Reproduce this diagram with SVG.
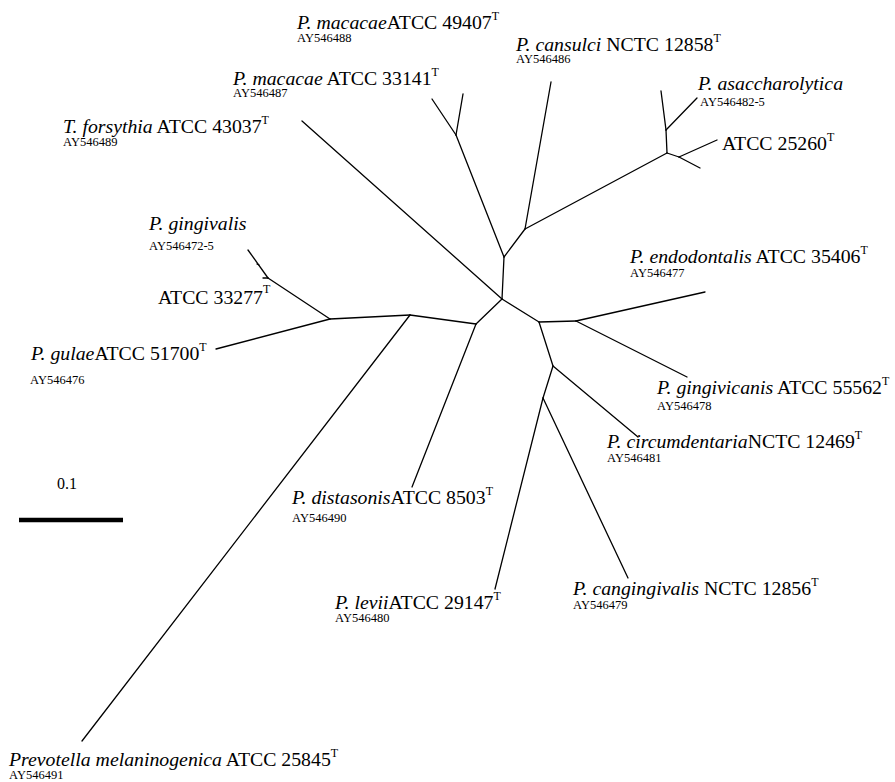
<svg xmlns="http://www.w3.org/2000/svg" width="895" height="782" viewBox="0 0 895 782">
  <style>
    .br { stroke: #000; stroke-width: 1.3; fill: none; stroke-linecap: round; }
    text { font-family: "Liberation Serif", "Times New Roman", Times, "DejaVu Serif", serif; fill: #000; }
    .lab { font-size: 19.8px; }
    .sp { font-style: italic; }
    .acc { font-size: 12.5px; }
    .sup { font-size: 12px; }
  </style>
  <rect width="895" height="782" fill="#fff"/>

  <!-- tree branches -->
  <g id="branches" class="br">
    <line x1="502" y1="299" x2="302" y2="121"/>
    <line x1="502" y1="299" x2="504" y2="257"/>
    <line x1="504" y1="257" x2="456" y2="135"/>
    <line x1="456" y1="135" x2="432" y2="99"/>
    <line x1="456" y1="135" x2="463" y2="94"/>
    <line x1="504" y1="257" x2="525" y2="229"/>
    <line x1="525" y1="229" x2="551" y2="82"/>
    <line x1="525" y1="229" x2="667" y2="153"/>
    <line x1="667" y1="153" x2="666" y2="130"/>
    <line x1="666" y1="130" x2="661" y2="91"/>
    <line x1="666" y1="130" x2="697" y2="98"/>
    <line x1="667" y1="153" x2="679" y2="157"/>
    <line x1="679" y1="157" x2="717" y2="140"/>
    <line x1="679" y1="157" x2="700" y2="168"/>
    <line x1="502" y1="299" x2="476" y2="324"/>
    <line x1="476" y1="324" x2="412" y2="487"/>
    <line x1="476" y1="324" x2="410" y2="315"/>
    <line x1="410" y1="315" x2="82" y2="741"/>
    <line x1="410" y1="315" x2="330" y2="319"/>
    <line x1="330" y1="319" x2="216" y2="349"/>
    <line x1="330" y1="319" x2="268" y2="278"/>
    <line x1="268" y1="278" x2="248" y2="250"/>
    <line x1="268" y1="278" x2="263" y2="278"/>
    <line x1="259" y1="265" x2="257" y2="264"/>
    <line x1="502" y1="299" x2="539" y2="322"/>
    <line x1="539" y1="322" x2="576" y2="321"/>
    <line x1="576" y1="321" x2="705" y2="292"/>
    <line x1="576" y1="321" x2="687" y2="377"/>
    <line x1="539" y1="322" x2="553" y2="366"/>
    <line x1="553" y1="366" x2="638" y2="437"/>
    <line x1="553" y1="366" x2="543" y2="398"/>
    <line x1="543" y1="398" x2="495" y2="589"/>
    <line x1="543" y1="398" x2="628" y2="578"/>
  </g>

  <!-- scale bar -->
  <g id="scale">
    <line x1="19" y1="520" x2="123" y2="520" stroke="#000" stroke-width="4.5"/>
    <text x="57" y="489" font-size="16">0.1</text>
  </g>

  <!-- taxon labels -->
  <g id="macacae-49407">
    <text class="lab" x="297" y="29"><tspan class="sp">P. macacae</tspan>ATCC 49407<tspan class="sup" dy="-9">T</tspan></text>
    <text class="acc" x="297" y="42">AY546488</text>
  </g>
  <g id="cansulci">
    <text class="lab" x="516" y="51"><tspan class="sp">P. cansulci</tspan> NCTC 12858<tspan class="sup" dy="-9">T</tspan></text>
    <text class="acc" x="516" y="63">AY546486</text>
  </g>
  <g id="macacae-33141">
    <text class="lab" x="233" y="85"><tspan class="sp">P. macacae</tspan> ATCC 33141<tspan class="sup" dy="-9">T</tspan></text>
    <text class="acc" x="233" y="97">AY546487</text>
  </g>
  <g id="asaccharolytica">
    <text class="lab" x="698" y="90"><tspan class="sp">P. asaccharolytica</tspan></text>
    <text class="acc" x="700" y="106">AY546482-5</text>
    <text class="lab" x="722" y="150">ATCC 25260<tspan class="sup" dy="-9">T</tspan></text>
  </g>
  <g id="forsythia">
    <text class="lab" x="63" y="133"><tspan class="sp">T. forsythia</tspan> ATCC 43037<tspan class="sup" dy="-9">T</tspan></text>
    <text class="acc" x="63" y="146">AY546489</text>
  </g>
  <g id="gingivalis">
    <text class="lab" x="149" y="230"><tspan class="sp">P. gingivalis</tspan></text>
    <text class="acc" x="149" y="250">AY546472-5</text>
    <text class="lab" x="158" y="304">ATCC 33277<tspan class="sup" dy="-11">T</tspan></text>
  </g>
  <g id="endodontalis">
    <text class="lab" x="630" y="263"><tspan class="sp">P. endodontalis</tspan> ATCC 35406<tspan class="sup" dy="-9">T</tspan></text>
    <text class="acc" x="630" y="277">AY546477</text>
  </g>
  <g id="gulae">
    <text class="lab" x="31" y="360"><tspan class="sp">P. gulae</tspan>ATCC 51700<tspan class="sup" dy="-9">T</tspan></text>
    <text class="acc" x="30" y="384">AY546476</text>
  </g>
  <g id="gingivicanis">
    <text class="lab" x="657" y="394"><tspan class="sp">P. gingivicanis</tspan> ATCC 55562<tspan class="sup" dy="-9">T</tspan></text>
    <text class="acc" x="657" y="410">AY546478</text>
  </g>
  <g id="circumdentaria">
    <text class="lab" x="607" y="448"><tspan class="sp">P. circumdentaria</tspan>NCTC 12469<tspan class="sup" dy="-9">T</tspan></text>
    <text class="acc" x="607" y="462">AY546481</text>
  </g>
  <g id="distasonis">
    <text class="lab" x="292" y="504"><tspan class="sp">P. distasonis</tspan>ATCC 8503<tspan class="sup" dy="-9">T</tspan></text>
    <text class="acc" x="292" y="522">AY546490</text>
  </g>
  <g id="cangingivalis">
    <text class="lab" x="573" y="595"><tspan class="sp">P. cangingivalis</tspan> NCTC 12856<tspan class="sup" dy="-9">T</tspan></text>
    <text class="acc" x="573" y="609">AY546479</text>
  </g>
  <g id="levii">
    <text class="lab" x="335" y="609"><tspan class="sp">P. levii</tspan>ATCC 29147<tspan class="sup" dy="-9">T</tspan></text>
    <text class="acc" x="335" y="622">AY546480</text>
  </g>
  <g id="melaninogenica">
    <text class="lab" x="9" y="766"><tspan class="sp">Prevotella melaninogenica</tspan> ATCC 25845<tspan class="sup" dy="-9">T</tspan></text>
    <text class="acc" x="9" y="779">AY546491</text>
  </g>
</svg>
